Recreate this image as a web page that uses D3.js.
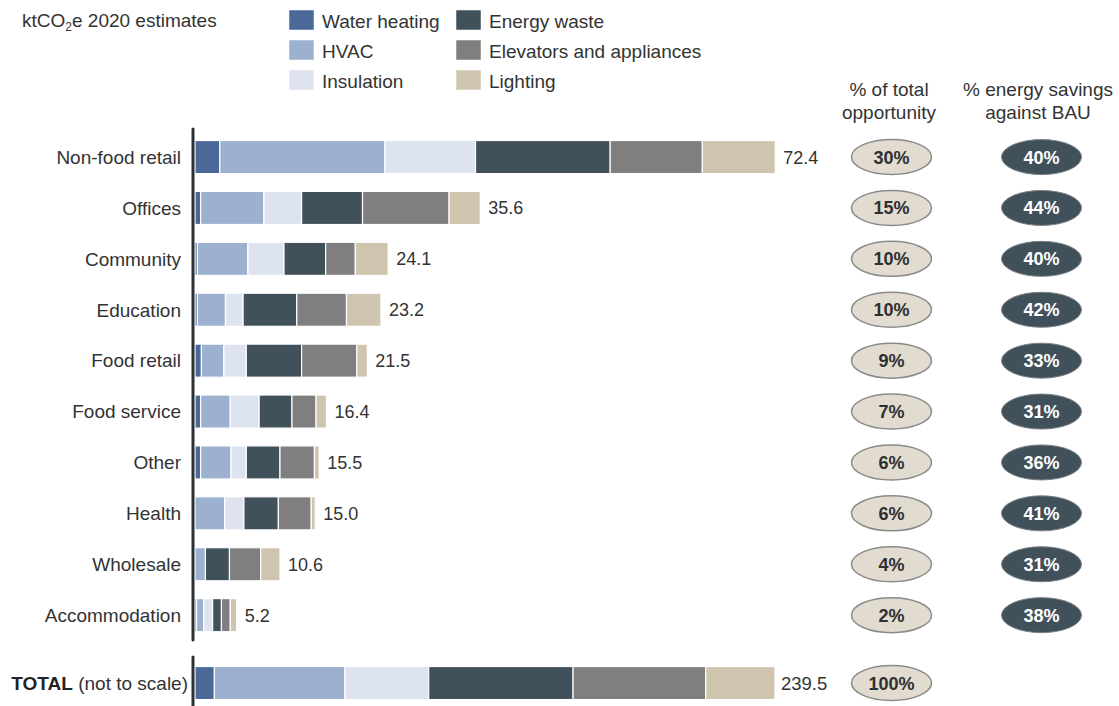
<!DOCTYPE html>
<html>
<head>
<meta charset="utf-8">
<script src="https://cdn.jsdelivr.net/npm/d3@7"></script>
<style>
  html, body { margin: 0; padding: 0; background: #fff; }
  svg { display: block; font-family: "Liberation Sans", Arial, Helvetica, sans-serif; }
</style>
</head>
<body>
<svg id="chart" width="1119" height="706"></svg>
<script>
// Building types (rows, top to bottom)
const categories = ["Non-food retail", "Offices", "Community", "Education", "Food retail",
  "Food service", "Other", "Health", "Wholesale", "Accommodation"];

// Abatement by measure, ktCO2e 2020 estimates
const series = ["Water heating", "HVAC", "Insulation", "Energy waste", "Elevators and appliances", "Lighting"];
const waterHeating = [3.1, 0.7, 0.3, 0.3, 0.8, 0.7, 0.7, 0.0, 0.0, 0.2];
const hvac         = [20.6, 7.9, 6.3, 3.5, 2.8, 3.7, 3.8, 3.7, 1.3, 0.9];
const insulation   = [11.3, 4.7, 4.5, 2.2, 2.8, 3.6, 1.9, 2.4, 0.0, 1.1];
const energyWaste  = [16.8, 7.6, 5.2, 6.7, 6.9, 4.1, 4.2, 4.3, 3.0, 1.1];
const elevators    = [11.5, 10.8, 3.7, 6.2, 6.9, 3.0, 4.3, 4.1, 3.9, 1.1];
const lighting     = [9.1, 3.9, 4.1, 4.3, 1.3, 1.3, 0.6, 0.5, 2.4, 0.8];

// Row totals as printed
const rowTotals = [72.4, 35.6, 24.1, 23.2, 21.5, 16.4, 15.5, 15.0, 10.6, 5.2];

// All buildings, by measure
const totalByMeasure = [8.0, 53.9, 34.6, 59.6, 54.8, 28.6];
const grandTotal = 239.5;

// Side columns
const shareOfTotal = [30, 15, 10, 10, 9, 7, 6, 6, 4, 2];
const shareTotalLabel = 100;
const savingsVsBAU = [40, 44, 40, 42, 33, 31, 36, 41, 31, 38];

const colors = ["#4a6998", "#9cb0cf", "#dee4ef", "#41515c", "#7f7f7f", "#cfc4ad"];

// ---- assemble tables for the stack layout
const valueArrays = [waterHeating, hvac, insulation, energyWaste, elevators, lighting];
const rows = categories.map((c, i) => {
  const r = { category: c, total: rowTotals[i] };
  series.forEach((s, k) => r[s] = valueArrays[k][i]);
  return r;
});
const totalRow = { category: "TOTAL", total: grandTotal };
series.forEach((s, k) => totalRow[s] = totalByMeasure[k]);

const svg = d3.select("#chart");
const textColor = "#333";
const labelSize = 19;

const x = d3.scaleLinear().domain([0, d3.max(rowTotals)]).range([195, 775.3]);
// TOTAL bar is drawn on its own scale (not to scale with the rows)
const xTotal = d3.scaleLinear().domain([0, grandTotal]).range([195, 775]);

const y = d3.scaleBand().domain(categories).range([122.7, 649.5])
  .paddingInner(0.35).paddingOuter(0.35);
const totalY = 666.5, totalH = y.bandwidth();

const color = d3.scaleOrdinal().domain(series).range(colors);
const stack = d3.stack().keys(series);
const stacked = stack(rows);
const stackedTotal = stack([totalRow]);

// ---- stacked bars
const g = svg.append("g");
g.selectAll("g.layer").data(stacked).join("g")
  .attr("class", "layer")
  .attr("fill", d => color(d.key))
  .selectAll("rect").data(d => d.filter(p => p[1] - p[0] > 0)).join("rect")
  .attr("x", d => x(d[0]))
  .attr("width", d => x(d[1]) - x(d[0]))
  .attr("y", d => y(d.data.category))
  .attr("height", y.bandwidth())
  .attr("stroke", "#fff").attr("stroke-width", 1.2);

g.selectAll("g.tlayer").data(stackedTotal).join("g")
  .attr("class", "tlayer")
  .attr("fill", d => color(d.key))
  .selectAll("rect").data(d => d).join("rect")
  .attr("x", d => xTotal(d[0]))
  .attr("width", d => xTotal(d[1]) - xTotal(d[0]))
  .attr("y", totalY)
  .attr("height", totalH)
  .attr("stroke", "#fff").attr("stroke-width", 1.2);

// ---- value labels
svg.append("g").selectAll("text").data(rows).join("text")
  .attr("x", d => x(d.total) + 8)
  .attr("y", d => y(d.category) + y.bandwidth() / 2)
  .attr("dy", "0.36em")
  .attr("font-size", 18).attr("fill", textColor)
  .text(d => d3.format(".1f")(d.total));

svg.append("text")
  .attr("x", xTotal(grandTotal) + 6).attr("y", totalY + totalH / 2).attr("dy", "0.36em")
  .attr("font-size", 18.5).attr("fill", textColor)
  .text(d3.format(".1f")(grandTotal));

// ---- category axis (vertical rule + labels)
svg.append("line").attr("x1", 193).attr("x2", 193).attr("y1", 129).attr("y2", 640)
  .attr("stroke", "#2a3238").attr("stroke-width", 3).attr("stroke-linecap", "round");
svg.append("line").attr("x1", 193).attr("x2", 193).attr("y1", 657).attr("y2", 712)
  .attr("stroke", "#2a3238").attr("stroke-width", 3).attr("stroke-linecap", "round");

svg.append("g").selectAll("text").data(categories).join("text")
  .attr("x", 181)
  .attr("y", d => y(d) + y.bandwidth() / 2)
  .attr("dy", "0.36em")
  .attr("text-anchor", "end")
  .attr("font-size", labelSize).attr("fill", textColor)
  .text(d => d);

const tl = svg.append("text")
  .attr("x", 188).attr("y", totalY + totalH / 2).attr("dy", "0.36em")
  .attr("text-anchor", "end").attr("font-size", labelSize).attr("fill", "#222");
tl.append("tspan").attr("font-weight", "bold").text("TOTAL");
tl.append("tspan").attr("fill", textColor).text(" (not to scale)");

// ---- title
const title = svg.append("text").attr("x", 22).attr("y", 27)
  .attr("font-size", 19).attr("fill", textColor);
title.append("tspan").text("ktCO");
title.append("tspan").attr("font-size", 12).attr("dy", 4).text("2");
title.append("tspan").attr("dy", -4).text("e 2020 estimates");

// ---- legend (two columns of three)
const legendCols = [289, 456];
const legend = svg.append("g").selectAll("g").data(series).join("g")
  .attr("transform", (d, i) => `translate(${legendCols[Math.floor(i / 3)]},${10 + (i % 3) * 30})`);
legend.append("rect").attr("width", 25).attr("height", 20)
  .attr("fill", d => color(d)).attr("stroke", "#fff").attr("stroke-width", 0.5);
legend.append("text").attr("x", 33).attr("y", 11).attr("dy", "0.36em")
  .attr("font-size", labelSize).attr("fill", textColor).text(d => d);

// ---- column headers
const headers = [
  { cx: 889, lines: ["% of total", "opportunity"] },
  { cx: 1038, lines: ["% energy savings", "against BAU"] }
];
headers.forEach(h => {
  svg.append("g").selectAll("text").data(h.lines).join("text")
    .attr("x", h.cx).attr("y", (d, i) => 96 + i * 23)
    .attr("text-anchor", "middle").attr("font-size", labelSize).attr("fill", textColor)
    .text(d => d);
});

// ---- pill badges
const shareX = 891.5, saveX = 1041.5, rx = 40, ry = 17.5;
const shareData = categories.map((c, i) => ({ cy: y(c) + y.bandwidth() / 2, v: shareOfTotal[i] }))
  .concat([{ cy: totalY + totalH / 2, v: shareTotalLabel }]);
const share = svg.append("g").selectAll("g").data(shareData).join("g")
  .attr("transform", d => `translate(${shareX},${d.cy})`);
share.append("ellipse").attr("rx", rx).attr("ry", ry)
  .attr("fill", "#e2dbcf").attr("stroke", "#8a8a8a").attr("stroke-width", 1.5);
share.append("text").attr("text-anchor", "middle").attr("dy", "0.36em")
  .attr("font-size", 18).attr("font-weight", "bold").attr("fill", "#2e3033")
  .text(d => d.v + "%");

const save = svg.append("g").selectAll("g").data(categories.map((c, i) => ({ cy: y(c) + y.bandwidth() / 2, v: savingsVsBAU[i] })))
  .join("g")
  .attr("transform", d => `translate(${saveX},${d.cy})`);
save.append("ellipse").attr("rx", rx).attr("ry", ry)
  .attr("fill", "#41515c").attr("stroke", "#7a8084").attr("stroke-width", 1);
save.append("text").attr("text-anchor", "middle").attr("dy", "0.36em")
  .attr("font-size", 18).attr("font-weight", "bold").attr("fill", "#fff")
  .text(d => d.v + "%");
</script>
</body>
</html>
